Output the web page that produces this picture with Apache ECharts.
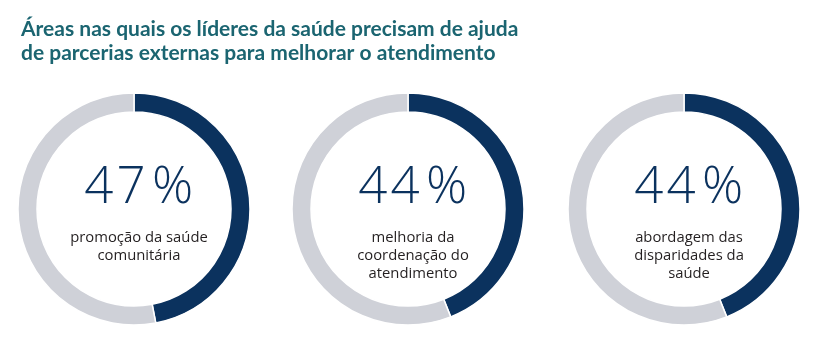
<!DOCTYPE html>
<html>
<head>
<meta charset="utf-8">
<script src="https://cdn.jsdelivr.net/npm/echarts@6/dist/echarts.min.js"></script>
<style>
html,body{margin:0;padding:0;background:#fff;}
#chart{width:817px;height:354px;}
</style>
</head>
<body>
<div id="chart"></div>
<script>
var titleText = 'Áreas nas quais os líderes da saúde precisam de ajuda\nde parcerias externas para melhorar o atendimento';
var categories = ['promoção da saúde\ncomunitária', 'melhoria da\ncoordenação do\natendimento', 'abordagem das\ndisparidades da\nsaúde'];
var values = [47, 44, 44];
var centersX = [134, 408, 684];
var centerY = 209;

var chart = echarts.init(document.getElementById('chart'), null, {renderer: 'canvas'});

var series = [];
var titles = [{
  text: titleText,
  left: 16, top: 12,
  textStyle: {fontFamily: 'Lato', fontWeight: 'bold', fontSize: 21, color: '#1b6571', lineHeight: 24}
}];

function bigText(v) {
  return String(v).split('').map(function (c) { return '{d|' + c + '}'; }).join('') + '{p|%}';
}

values.forEach(function (v, i) {
  series.push({
    type: 'pie',
    center: [centersX[i], centerY],
    radius: [97, 116],
    startAngle: 90,
    clockwise: true,
    silent: true,
    label: {show: false},
    labelLine: {show: false},
    itemStyle: {borderColor: '#ffffff', borderWidth: 1.5},
    data: [
      {value: v, name: 'sim', itemStyle: {color: '#0b325e'}},
      {value: 100 - v, name: 'resto', itemStyle: {color: '#cfd1d8'}}
    ]
  });
  titles.push({
    text: bigText(v),
    left: centersX[i] - 1, top: 155,
    textAlign: 'center',
    textStyle: {
      rich: {
        d: {fontFamily: 'Open Sans', fontWeight: 300, fontSize: 51, color: '#0b325e', padding: [0, 1.5], height: 56},
        p: {fontFamily: 'Open Sans', fontWeight: 300, fontSize: 51, color: '#0b325e', padding: [0, 0, 0, 5], height: 56}
      }
    }
  });
  titles.push({
    text: categories[i],
    left: centersX[i], top: 224,
    textAlign: 'center',
    textStyle: {fontFamily: 'Open Sans', fontWeight: 'normal', fontSize: 14.8, color: '#231f20', lineHeight: 18, align: 'center'}
  });
});

chart.setOption({
  animation: false,
  title: titles,
  series: series
});
</script>
</body>
</html>
